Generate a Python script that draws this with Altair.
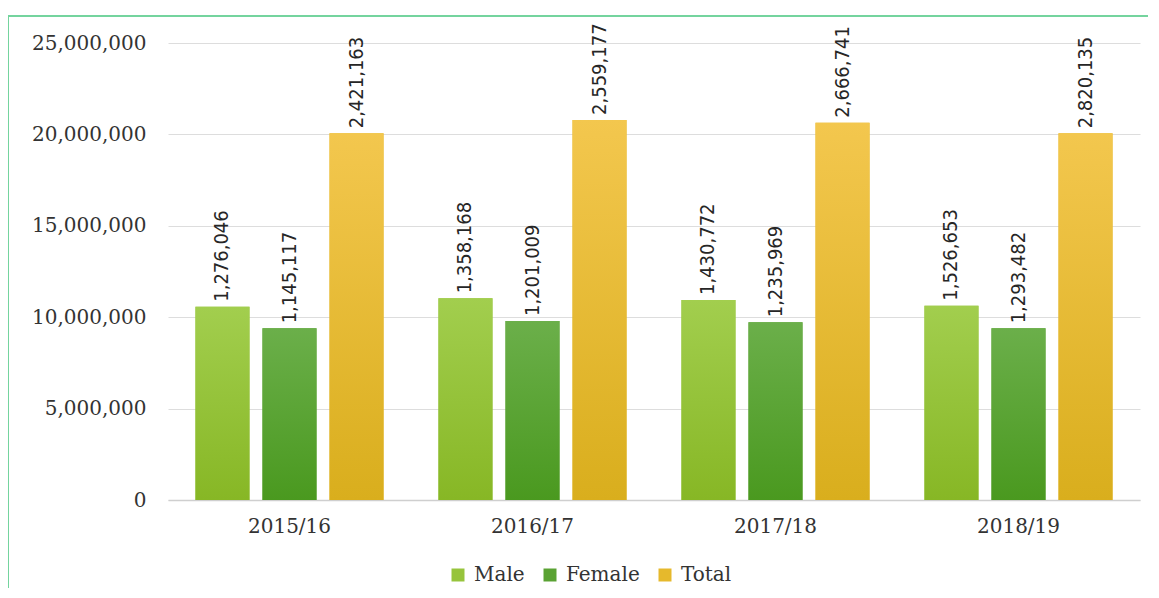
import altair as alt
import pandas as pd

years = ["2015/16", "2016/17", "2017/18", "2018/19"]
series = ["Male", "Female", "Total"]
# bar heights as drawn on the chart's axis
male_height = [10.57e6, 11.03e6, 10.94e6, 10.63e6]
female_height = [9.39e6, 9.79e6, 9.72e6, 9.39e6]
total_height = [20.06e6, 20.79e6, 20.64e6, 20.06e6]
# data labels as printed above the bars
male_label = [1276046, 1358168, 1430772, 1526653]
female_label = [1145117, 1201009, 1235969, 1293482]
total_label = [2421163, 2559177, 2666741, 2820135]

solid = ["#97C43C", "#5AA233", "#E6B92C"]
grad = {
    "Male": ("#A2CE4E", "#87B725"),
    "Female": ("#6BAF4A", "#4A991F"),
    "Total": ("#F3C74E", "#D9AE1D"),
}

rows = []
for i, y in enumerate(years):
    for s, h, l in (("Male", male_height, male_label),
                    ("Female", female_height, female_label),
                    ("Total", total_height, total_label)):
        rows.append({"year": y, "series": s, "height": h[i], "label": l[i]})
df = pd.DataFrame(rows)

serif = "DejaVu Serif"
narrow = "Liberation Sans Narrow, DejaVu Sans Condensed, sans-serif"

x_enc = alt.X("year:N", sort=years, title=None,
              scale=alt.Scale(paddingInner=0.226, paddingOuter=0.113),
              axis=alt.Axis(labelAngle=0, labelFont=serif, labelFontSize=20,
                            labelColor="#333333", labelPadding=16, ticks=False,
                            domainColor="#CFCFCF", domainWidth=1.5, grid=False))
xo_enc = alt.XOffset("series:N", sort=series,
                     scale=alt.Scale(domain=series, paddingInner=0.194, paddingOuter=0))
y_enc = alt.Y("height:Q", title=None,
              scale=alt.Scale(domain=[0, 25e6], nice=False),
              axis=alt.Axis(values=[0, 5e6, 10e6, 15e6, 20e6, 25e6], format=",d",
                            labelFont=serif, labelFontSize=20, labelColor="#333333",
                            labelPadding=22, ticks=False, domain=False,
                            gridColor="#DDDDDD", gridWidth=1))

base = alt.Chart(df).mark_bar().encode(
    x=x_enc, xOffset=xo_enc, y=y_enc,
    color=alt.Color("series:N", sort=series,
                    scale=alt.Scale(domain=series, range=solid),
                    legend=alt.Legend(title=None, orient="none", direction="horizontal",
                                      legendX=280, legendY=522,
                                      symbolType="square", symbolSize=169,
                                      symbolStrokeWidth=0, labelFont=serif,
                                      labelFontSize=20, labelColor="#333333",
                                      labelOffset=6, columnPadding=15)),
)

layers = [base]
for s in series:
    top, bottom = grad[s]
    layers.append(
        alt.Chart(df).transform_filter(alt.datum.series == s).mark_bar(
            color=alt.Gradient(gradient="linear", x1=0, y1=0, x2=0, y2=1,
                               stops=[alt.GradientStop(color=top, offset=0),
                                      alt.GradientStop(color=bottom, offset=1)])
        ).encode(x=x_enc, xOffset=xo_enc, y=y_enc)
    )

labels = alt.Chart(df).mark_text(
    angle=270, align="left", baseline="middle", dx=5,
    font=narrow, fontSize=20, color="#262626"
).encode(x=x_enc, xOffset=xo_enc, y=y_enc,
         text=alt.Text("label:Q", format=",d"))
layers.append(labels)

frame_df = pd.DataFrame({"k": [0]})
frame_top = alt.Chart(frame_df).mark_rule(color="#74D49E", strokeWidth=2).encode(
    x=alt.value(-160), x2=alt.value(990), y=alt.value(-27))
frame_left = alt.Chart(frame_df).mark_rule(color="#74D49E", strokeWidth=2).encode(
    x=alt.value(-160), y=alt.value(-27), y2=alt.value(560))
layers += [frame_top, frame_left]

chart = alt.layer(*layers).properties(
    width=972, height=457,
    background="white",
    autosize=alt.AutoSizeParams(type="none"),
    padding={"left": 160, "top": 35, "right": 8, "bottom": 88},
).configure_view(stroke=None)

chart.save("out.html", embed_options={"renderer": "svg", "actions": False})
